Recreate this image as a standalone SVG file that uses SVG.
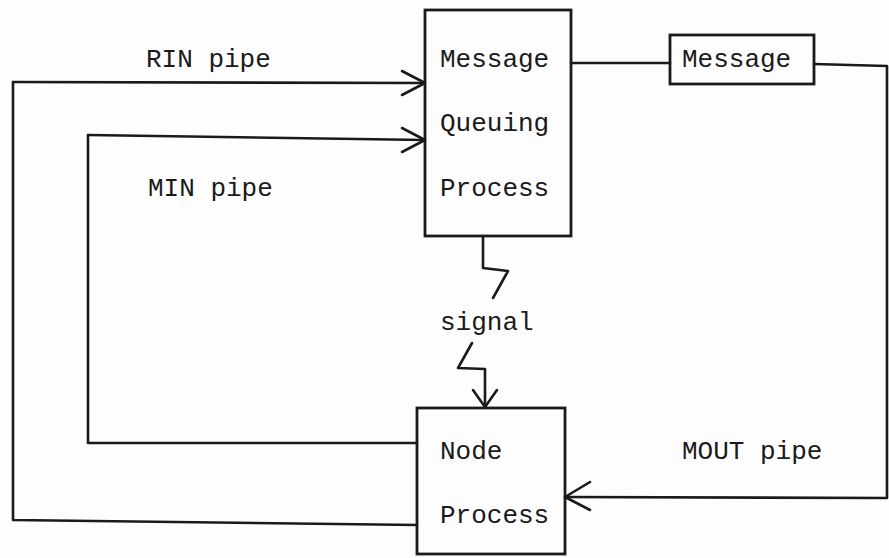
<svg xmlns="http://www.w3.org/2000/svg" width="889" height="558" viewBox="0 0 889 558">
<style>
.ln{fill:none;stroke:#1a1a1a;stroke-width:2.6;stroke-linecap:round;stroke-linejoin:round}
.box{fill:none;stroke:#1a1a1a;stroke-width:2.8}
.t{font-family:"Liberation Mono","DejaVu Sans Mono",monospace;font-size:26px;fill:#1a1a1a}
</style>
<rect width="889" height="558" fill="#fdfdfd"/>
<g id="connectors">
<path class="ln" d="M13,82 L425,83"/>
<path class="ln" d="M402,71 L425,83 L402,95"/>
<path class="ln" d="M88,135 L425,140"/>
<path class="ln" d="M402,128 L425,140 L402,152"/>
<path class="ln" d="M13,82 L13,520 L417,525"/>
<path class="ln" d="M88,135 L88,443 L417,443"/>
<path class="ln" d="M571,63 L670,63"/>
<path class="ln" d="M814,64 L887,66 L887,498 L565,497"/>
<path class="ln" d="M590,482 L565,497 L590,510"/>
<path class="ln" d="M483,236 L483,268 L508,271 L493,298"/>
<path class="ln" d="M472,343 L458,368 L485,369 L485,407"/>
<path class="ln" d="M473,390 L485,407 L497,390"/>
</g>
<g id="mqp">
<rect class="box" x="425" y="10" width="146" height="226"/>
<text class="t" x="440" y="67">Message</text>
<text class="t" x="440" y="131">Queuing</text>
<text class="t" x="440" y="196">Process</text>
</g>
<g id="message">
<rect class="box" x="670" y="35" width="144" height="49"/>
<text class="t" x="682" y="67">Message</text>
</g>
<g id="node">
<rect class="box" x="417" y="408" width="148" height="146"/>
<text class="t" x="440" y="459">Node</text>
<text class="t" x="440" y="523">Process</text>
</g>
<g id="labels">
<text class="t" x="146" y="67">RIN pipe</text>
<text class="t" x="148" y="196">MIN pipe</text>
<text class="t" x="440" y="330">signal</text>
<text class="t" x="682" y="459">MOUT pipe</text>
</g>
</svg>
